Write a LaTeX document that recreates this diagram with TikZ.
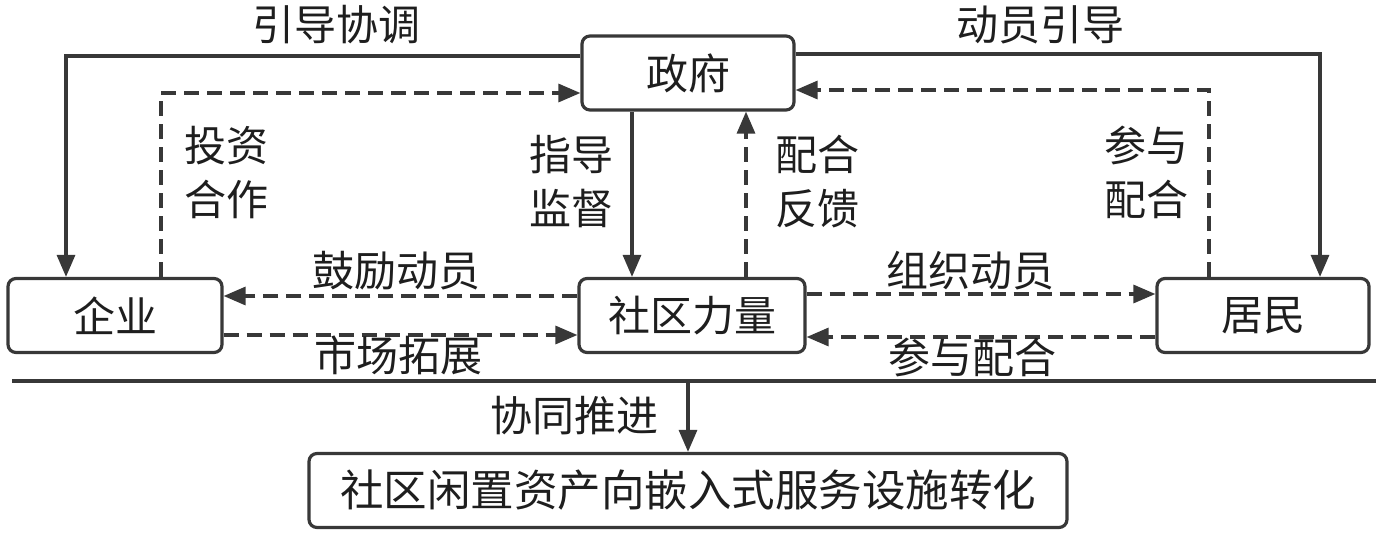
\documentclass[tikz,border=0pt]{standalone}
\usepackage{fontspec}
\setmainfont{Noto Sans CJK SC}
\usetikzlibrary{arrows.meta}
\definecolor{ln}{HTML}{383838}
\definecolor{tx}{HTML}{1E1E1E}
\begin{document}
\begin{tikzpicture}[x=1pt,y=-1pt,
  box/.style={draw=ln, line width=3.2pt, rounded corners=8pt, minimum height=74pt, inner sep=0pt,
    font=\fontsize{42}{50}\selectfont, text=tx},
  lbl/.style={inner sep=0pt, font=\fontsize{42}{54}\selectfont, text=tx, align=center},
  solidarrow/.style={draw=ln, line width=3.2pt, -{Triangle[length=22pt,width=18pt]}},
  dasharrow/.style={solidarrow, dash pattern=on 15pt off 8pt},
  plainline/.style={draw=ln, line width=3.2pt}
]
\useasboundingbox (0,0) rectangle (1380,541);
% boxes
\node[box, minimum width=212pt] (gov) at (688,73) {政府};
\node[box, minimum width=214pt] (ent) at (115,315.5) {企业};
\node[box, minimum width=226pt] (comm) at (692,315.5) {社区力量};
\node[box, minimum width=758pt, font=\fontsize{43.5}{50}\selectfont] (bot) at (688,490.5) {社区闲置资产向嵌入式服务设施转化};
\node[box, minimum width=212pt] (res) at (1263,315.5) {居民};
% connectors
\draw[solidarrow] ([yshift=17pt]gov.west) -| ([xshift=-49pt]ent.north);
\draw[dasharrow] ([xshift=46pt]ent.north) |- ([yshift=-20pt]gov.west);
\draw[solidarrow] ([xshift=-56pt]gov.south) -- ([xshift=-56pt]gov.south |- comm.north);
\draw[dasharrow] ([xshift=54pt]comm.north) -- ([xshift=54pt]comm.north |- gov.south);
\draw[solidarrow] ([yshift=19pt]gov.east) -| ([xshift=57pt]res.north);
\draw[dasharrow] ([xshift=-54pt]res.north) |- ([yshift=-17pt]gov.east);
\draw[dasharrow] ([yshift=19.5pt]comm.west) -- ([yshift=19.5pt]comm.west -| ent.east);
\draw[dasharrow] ([yshift=-19.5pt]ent.east) -- ([yshift=-19.5pt]ent.east -| comm.west);
\draw[dasharrow] ([yshift=21.5pt]comm.east) -- ([yshift=21.5pt]comm.east -| res.west);
\draw[dasharrow] ([yshift=-21.5pt]res.west) -- ([yshift=-21.5pt]res.west -| comm.east);
% baseline
\coordinate (lineL) at (12,381);
\coordinate (lineR) at (1376,381);
\draw[plainline] (lineL) -- (lineR);
\draw[solidarrow] (bot.north |- lineL) -- (bot.north);
% labels
\node[lbl] (l1) at (336,25) {引导协调};
\node[lbl] (l2) at (1040,25) {动员引导};
\node[lbl] (l3) at (226,173) {投资\\合作};
\node[lbl] (l4) at (571,182) {指导\\监督};
\node[lbl] (l5) at (817,182) {配合\\反馈};
\node[lbl] (l6) at (1146,172) {参与\\配合};
\node[lbl] (l7) at (396,271) {鼓励动员};
\node[lbl] (l8) at (970,271) {组织动员};
\node[lbl] (l9) at (398,355) {市场拓展};
\node[lbl] (l10) at (972,357) {参与配合};
\node[lbl] (l11) at (574,416) {协同推进};
\end{tikzpicture}
\end{document}
